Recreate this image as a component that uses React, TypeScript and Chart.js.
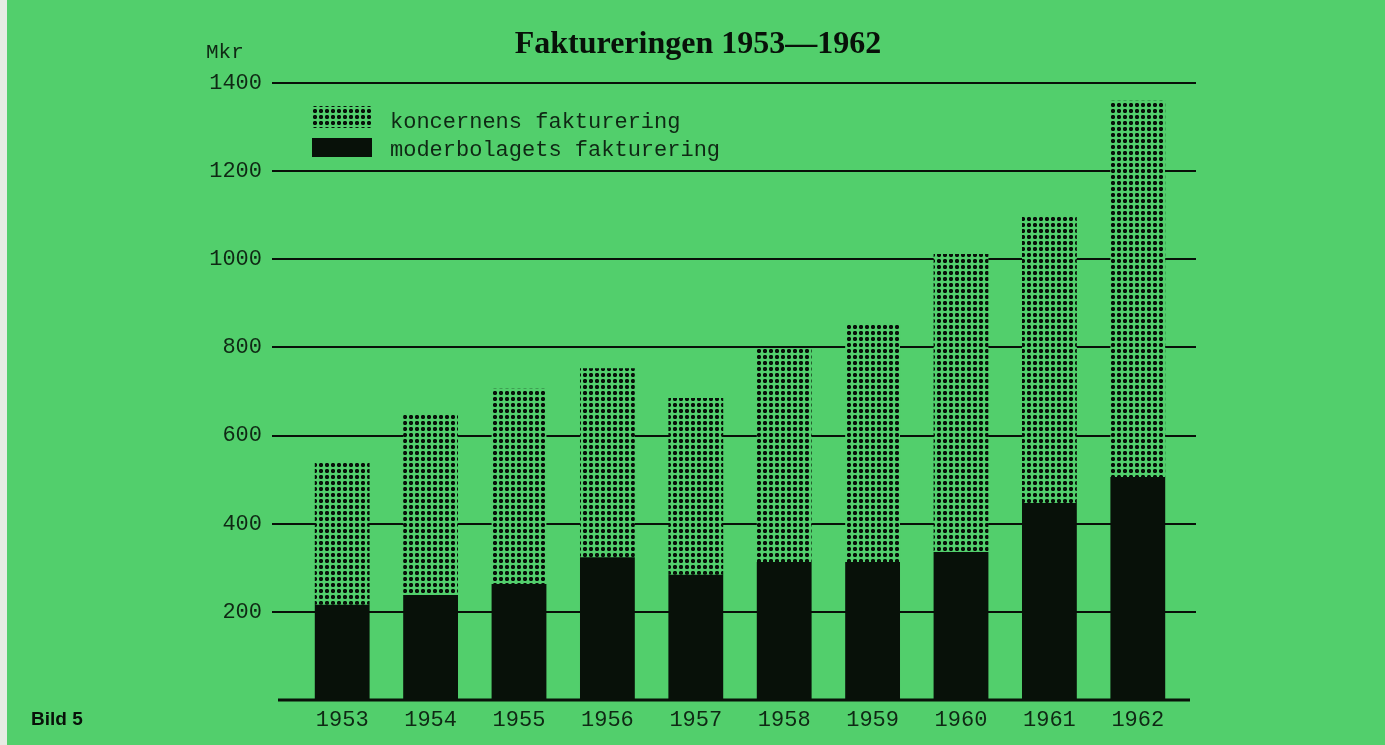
import React, { useEffect, useRef } from "react";
import { Chart, registerables } from "chart.js";

Chart.register(...registerables);

// ---- data ----
const years = ["1953", "1954", "1955", "1956", "1957", "1958", "1959", "1960", "1961", "1962"];
const koncernensFakturering = [540, 651, 706, 753, 685, 797, 855, 1012, 1098, 1360];
const moderbolagetsFakturering = [216, 238, 263, 324, 284, 313, 313, 336, 447, 506];
const yTickValues = [0, 200, 400, 600, 800, 1000, 1200, 1400];
const seriesLabels = ["koncernens fakturering", "moderbolagets fakturering"];
const titleText = "Faktureringen 1953\u20141962";
const unitText = "Mkr";
const figureText = "Bild 5";

// ---- style ----
const BG = "#52cf6c";
const INK = "#081109";
const TEXT = "#0f2814";
const MONO = "'Liberation Mono', 'DejaVu Sans Mono', monospace";

function makeDotPattern(): CanvasPattern | string {
  const c = document.createElement("canvas");
  c.width = 6;
  c.height = 6;
  const g = c.getContext("2d");
  if (!g) return INK;
  g.fillStyle = BG;
  g.fillRect(0, 0, 6, 6);
  g.fillStyle = INK;
  g.fillRect(1, 2, 4, 2);
  g.fillRect(2, 1, 2, 4);
  g.globalAlpha = 0.5;
  g.fillRect(1, 1, 1, 1);
  g.fillRect(4, 1, 1, 1);
  g.fillRect(1, 4, 1, 1);
  g.fillRect(4, 4, 1, 1);
  const p = g.createPattern(c, "repeat");
  return p || INK;
}

const gridPlugin = {
  id: "extendedGrid",
  beforeDatasetsDraw(chart: any) {
    const { ctx, chartArea, scales } = chart;
    const y = scales.y;
    ctx.save();
    ctx.strokeStyle = INK;
    yTickValues.forEach((v) => {
      const py = Math.round(y.getPixelForValue(v));
      ctx.beginPath();
      if (v === 0) {
        ctx.lineWidth = 3;
        ctx.moveTo(chartArea.left - 20, py);
        ctx.lineTo(chartArea.right + 8, py);
      } else {
        ctx.lineWidth = 2;
        ctx.moveTo(chartArea.left - 26, py);
        ctx.lineTo(chartArea.right + 14, py);
      }
      ctx.stroke();
    });
    ctx.restore();
  },
};

const decorPlugin = {
  id: "decor",
  afterDraw(chart: any) {
    const { ctx, chartArea } = chart;
    ctx.save();
    // title
    ctx.fillStyle = INK;
    ctx.font = "bold 32px 'Liberation Serif', 'DejaVu Serif', serif";
    ctx.textAlign = "center";
    ctx.textBaseline = "alphabetic";
    ctx.fillText(titleText, 698, 53);
    // unit
    ctx.fillStyle = TEXT;
    ctx.font = `21px ${MONO}`;
    ctx.textAlign = "left";
    ctx.fillText(unitText, 206, 58);
    // figure label
    ctx.fillStyle = INK;
    ctx.font = "bold 19px 'Liberation Sans', Arial, sans-serif";
    ctx.fillText(figureText, 31, 725);
    // legend
    const ds = chart.data.datasets;
    const legendOrder = [1, 0];
    const rows = [
      { y0: 106, h: 22, base: 128 },
      { y0: 138, h: 19, base: 156 },
    ];
    legendOrder.forEach((idx, i) => {
      const r = rows[i];
      ctx.fillStyle = ds[idx].backgroundColor;
      ctx.fillRect(chartArea.left + 14, r.y0, 60, r.h);
      ctx.fillStyle = TEXT;
      ctx.font = `22px ${MONO}`;
      ctx.textAlign = "left";
      ctx.fillText(ds[idx].label, chartArea.left + 92, r.base);
    });
    ctx.restore();
  },
};

export default function App() {
  const ref = useRef<HTMLCanvasElement | null>(null);

  useEffect(() => {
    const canvas = ref.current;
    if (!canvas) return;
    const dots = makeDotPattern();
    const chart = new Chart(canvas, {
      type: "bar",
      data: {
        labels: years,
        datasets: [
          {
            label: seriesLabels[1],
            data: moderbolagetsFakturering,
            backgroundColor: INK,
            borderWidth: 0,
            grouped: false,
            barPercentage: 0.62,
            categoryPercentage: 1,
          },
          {
            label: seriesLabels[0],
            data: koncernensFakturering.map((v, i) => [moderbolagetsFakturering[i], v]) as any,
            backgroundColor: dots as any,
            borderWidth: 0,
            grouped: false,
            barPercentage: 0.62,
            categoryPercentage: 1,
          },
        ],
      },
      options: {
        responsive: false,
        animation: false,
        devicePixelRatio: 1,
        layout: { padding: { left: 198, right: 203, top: 83, bottom: 0 } },
        plugins: {
          legend: { display: false },
          title: { display: false },
          tooltip: { enabled: false },
        },
        scales: {
          x: {
            grid: { display: false, drawTicks: false },
            border: { display: false },
            ticks: {
              color: TEXT,
              font: { family: MONO, size: 22 },
              padding: 7,
              maxRotation: 0,
              autoSkip: false,
            },
            afterFit: (s: any) => {
              s.height = 45;
            },
          },
          y: {
            min: 0,
            max: 1400,
            grid: { display: false, drawTicks: true, tickLength: 36 },
            border: { display: false },
            ticks: {
              stepSize: 200,
              color: TEXT,
              font: { family: MONO, size: 22 },
              padding: 0,
              callback: (v: any) => (Number(v) === 0 ? "" : String(v)),
            },
            afterFit: (s: any) => {
              s.width = 100;
            },
          },
        },
      },
      plugins: [gridPlugin, decorPlugin],
    });
    return () => chart.destroy();
  }, []);

  return (
    <div
      style={{
        position: "fixed",
        left: 0,
        top: 0,
        width: 1385,
        height: 745,
        background: BG,
        overflow: "hidden",
      }}
    >
      <div style={{ position: "absolute", left: 0, top: 0, width: 7, height: 745, background: "#e6ece3" }} />
      <canvas ref={ref} width={1385} height={745} style={{ display: "block", position: "absolute", left: 0, top: 0 }} />
    </div>
  );
}
